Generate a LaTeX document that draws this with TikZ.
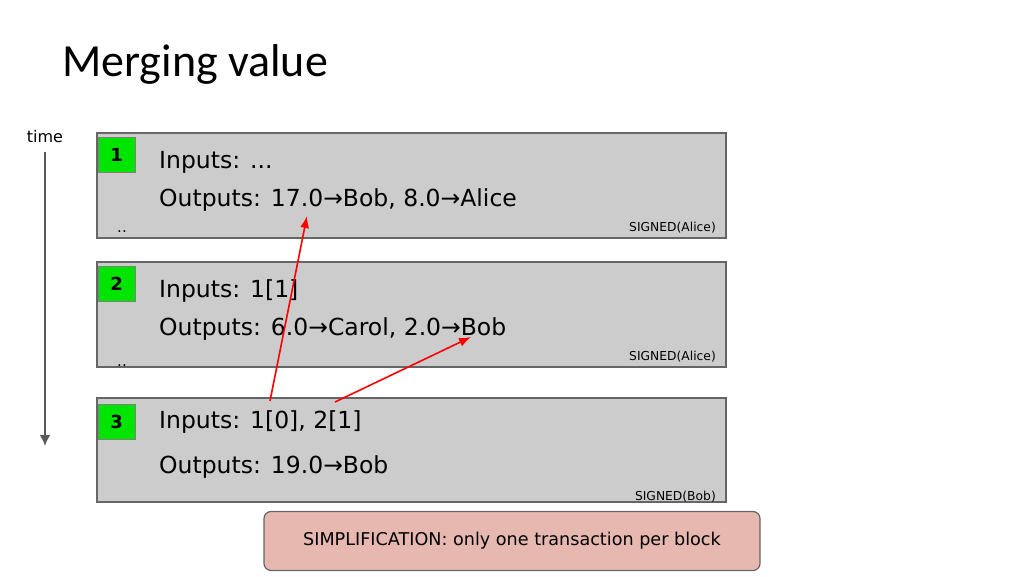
\documentclass[tikz,border=0pt]{standalone}
\usepackage{fontspec}
\usetikzlibrary{arrows.meta}
\setmainfont{DejaVu Sans}
\newfontfamily\titlefont{Carlito}
\definecolor{notefill}{HTML}{E6B8B0}
\begin{document}
\begin{tikzpicture}[x=1pt,y=-1pt,
  blk/.style={draw=black!60,line width=1.5pt,fill=black!20},
  num/.style={draw=black!50,fill=green!90!black,minimum width=37pt,minimum height=35pt,inner sep=0pt,anchor=north west,font=\bfseries\fontsize{18}{18}\selectfont},
  txt/.style={anchor=west,font=\fontsize{23.5}{24}\selectfont,inner sep=0pt},
  sig/.style={anchor=east,font=\fontsize{12.3}{13}\selectfont,inner sep=0pt},
  dots/.style={font=\fontsize{15}{15}\selectfont,inner sep=0pt},
  link/.style={red,line width=1.6pt,-{Latex[length=12pt,width=9pt]}}]
\useasboundingbox (0,0) rectangle (1024,576);
\node[anchor=west,font=\titlefont\fontsize{46}{46}\selectfont,inner sep=0pt] (title) at (62,64) {Merging value};
\node[font=\fontsize{16}{16}\selectfont,inner sep=0pt] (time) at (45,137) {time};
\coordinate (ts) at (45,152); \coordinate (te) at (45,446);
\draw[black!65,line width=2.5pt,-{Latex[length=11pt,width=11pt]}] (ts) -- (te);
% block 1
\draw[blk] (97,133) rectangle (726,238);
\node[num] (n1) at (98,137) {1};
\node[txt] (i1) at (159,162) {Inputs: ...};
\node[txt] (o1) at (159,200) {Outputs: 17.0→Bob, 8.0→Alice};
\node[sig] (s1) at (716,228) {SIGNED(Alice)};
\node[dots] (d1) at (122,232) {..};
% block 2
\draw[blk] (97,262) rectangle (726,367);
\node[num] (n2) at (98,266) {2};
\node[txt] (i2) at (159,291) {Inputs: 1[1]};
\node[txt] (o2) at (159,329) {Outputs: 6.0→Carol, 2.0→Bob};
\node[sig] (s2) at (716,357) {SIGNED(Alice)};
\node[dots] (d2) at (122,366) {..};
% block 3
\draw[blk] (97,398) rectangle (726,502);
\node[num] (n3) at (98,404) {3};
\node[txt] (i3) at (159,422) {Inputs: 1[0], 2[1]};
\node[txt] (o3) at (159,467) {Outputs: 19.0→Bob};
\node[sig] (s3) at (716,497) {SIGNED(Bob)};
% links
\coordinate (a1) at (270,401); \coordinate (b1) at (307,216);
\coordinate (a2) at (335,402); \coordinate (b2) at (471,337);
\draw[link] (a1) -- (b1);
\draw[link] (a2) -- (b2);
% note
\node[draw=black!60,line width=1.2pt,fill=notefill,rounded corners=7pt,minimum width=496pt,minimum height=59pt,font=\fontsize{17.6}{18}\selectfont] (note) at (512,541) {SIMPLIFICATION: only one transaction per block};
\end{tikzpicture}
\end{document}
